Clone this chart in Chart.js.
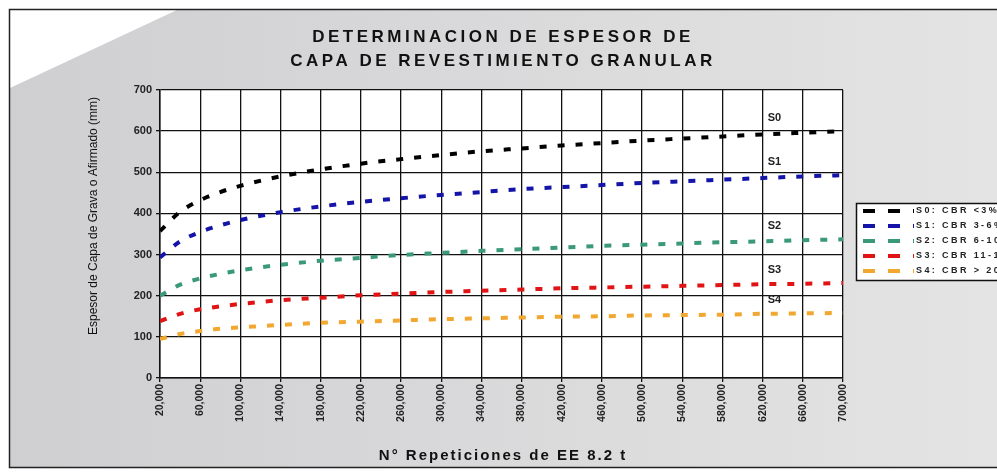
<!DOCTYPE html>
<html lang="es">
<head>
<meta charset="UTF-8">
<title>Espesor de capa granular</title>
<script src="https://cdn.jsdelivr.net/npm/chart.js"></script>
<style>
  html, body { margin: 0; padding: 0; background: #fff; }
  #wrap { width: 997px; height: 475px; }
</style>
</head>
<body>

<div id="wrap">
    <canvas id="grafico" width="997" height="475"></canvas>
</div>

<script>
    // valores (mm)
    const repeticiones = [20000, 40000, 60000, 80000, 100000, 140000, 180000, 220000, 260000, 300000,
        340000, 380000, 420000, 460000, 500000, 540000, 580000, 620000, 660000, 700000];
    const s0 = [357, 404, 432, 452, 467, 490, 507, 521, 532, 542, 551, 558, 565, 571, 577, 582, 587, 592, 596, 600];
    const s1 = [293, 332, 355, 371, 384, 403, 417, 428, 437, 445, 452, 459, 464, 469, 474, 478, 482, 486, 490, 493];
    const s2 = [200, 227, 242, 253, 262, 275, 285, 292, 299, 304, 309, 313, 317, 321, 324, 327, 330, 332, 335, 337];
    const s3 = [138, 156, 167, 174, 180, 189, 195, 201, 205, 209, 212, 215, 218, 220, 222, 224, 226, 228, 229, 231];
    const s4 = [95, 107, 114, 120, 123, 129, 134, 137, 140, 143, 145, 147, 149, 150, 152, 153, 154, 156, 157, 158];

    const nombres = ['S0', 'S1', 'S2', 'S3', 'S4'];
    const leyenda = ['S0: CBR <3%', 'S1: CBR 3-6%', 'S2: CBR 6-10%', 'S3: CBR 11-19%', 'S4: CBR > 20%'];
    const colores = ['#000000', '#1414a8', '#3a9a78', '#e01414', '#f2a830'];
    const series = [s0, s1, s2, s3, s4];

    const titulo = ['DETERMINACION DE ESPESOR DE', 'CAPA DE REVESTIMIENTO GRANULAR'];
    const tituloY = 'Espesor de Capa de Grava o Afirmado (mm)';
    const tituloX = 'N\u00b0 Repeticiones de EE 8.2 t';
    const xEtiqueta = 625000; // donde van los rotulos S0..S4

    const FUENTE = '"Liberation Sans", Arial, sans-serif';

    const decorado = {
        id: 'decorado',
        beforeDraw(chart) {
            const ctx = chart.ctx;
            const W = chart.width, H = chart.height;
            ctx.save();
            ctx.fillStyle = '#ffffff';
            ctx.fillRect(0, 0, W, H);
            // fondo gris con la esquina blanca
            const grad = ctx.createLinearGradient(10, 0, W, 0);
            grad.addColorStop(0, '#cfcfd2');
            grad.addColorStop(1, '#e4e4e4');
            ctx.fillStyle = grad;
            ctx.beginPath();
            ctx.moveTo(177, 10);
            ctx.lineTo(W, 10);
            ctx.lineTo(W, 467);
            ctx.lineTo(10, 467);
            ctx.lineTo(10, 88);
            ctx.closePath();
            ctx.fill();
            // marco
            ctx.strokeStyle = '#222';
            ctx.lineWidth = 1.5;
            ctx.beginPath();
            ctx.moveTo(W, 9.5);
            ctx.lineTo(9.5, 9.5);
            ctx.lineTo(9.5, 467.5);
            ctx.lineTo(W, 467.5);
            ctx.stroke();
            // area de trazado blanca
            const a = chart.chartArea;
            ctx.fillStyle = '#ffffff';
            ctx.fillRect(a.left, a.top, a.right - a.left, a.bottom - a.top);
            ctx.restore();
        },
        afterDatasetsDraw(chart) {
            const ctx = chart.ctx;
            const xs = chart.scales.x, ys = chart.scales.y;
            ctx.save();
            ctx.fillStyle = '#222';
            ctx.font = 'bold 11px ' + FUENTE;
            ctx.textAlign = 'left';
            ctx.textBaseline = 'middle';
            series.forEach((s, i) => {
                const x = xs.getPixelForValue(xEtiqueta);
                const y = ys.getPixelForValue(s[s.length - 1]) - 13;
                ctx.fillText(nombres[i], x, y);
            });
            ctx.restore();
        },
        afterDraw(chart) {
            const ctx = chart.ctx;
            ctx.save();
            ctx.fillStyle = '#111';
            ctx.textAlign = 'center';
            ctx.textBaseline = 'middle';

            // titulo
            ctx.font = 'bold 17px ' + FUENTE;
            ctx.letterSpacing = '3.5px';
            ctx.fillText(titulo[0], 503, 37);
            ctx.fillText(titulo[1], 503, 61);

            // titulo eje x
            ctx.font = 'bold 15px ' + FUENTE;
            ctx.letterSpacing = '2px';
            ctx.fillText(tituloX, 503, 456);
            ctx.letterSpacing = '0px';

            // titulo eje y
            ctx.font = '12px ' + FUENTE;
            ctx.translate(94, 216);
            ctx.rotate(-Math.PI / 2);
            ctx.fillText(tituloY, 0, 0);
            ctx.setTransform(1, 0, 0, 1, 0, 0);

            // leyenda (cortada por el borde derecho)
            const lx = 856, ly = 203;
            ctx.fillStyle = '#ffffff';
            ctx.fillRect(lx, ly, 200, 77);
            ctx.strokeStyle = '#111';
            ctx.lineWidth = 1.5;
            ctx.strokeRect(lx + 0.5, ly + 0.5, 200, 77);
            ctx.textAlign = 'left';
            ctx.font = 'bold 9px ' + FUENTE;
            ctx.letterSpacing = '2.4px';
            leyenda.forEach((t, i) => {
                const y = ly + 8 + i * 15;
                ctx.strokeStyle = colores[i];
                ctx.lineWidth = 4;
                ctx.setLineDash([12, 13]);
                ctx.beginPath();
                ctx.moveTo(863, y);
                ctx.lineTo(914, y);
                ctx.stroke();
                ctx.setLineDash([]);
                ctx.fillStyle = '#222';
                ctx.fillText(t, 916, y);
            });
            ctx.restore();
        }
    };

    const ctx = document.getElementById('grafico').getContext('2d');

    const grafico = new Chart(ctx, {
        type: 'line',
        data: {
            datasets: series.map((s, i) => ({
                label: leyenda[i],
                data: repeticiones.map((r, j) => ({ x: r, y: s[j] })),
                borderColor: colores[i],
                backgroundColor: colores[i],
                borderWidth: 4,
                borderDash: [7, 11],
                pointRadius: 0,
                cubicInterpolationMode: 'monotone',
                fill: false
            }))
        },
        plugins: [decorado],
        options: {
            responsive: false,
            animation: false,
            devicePixelRatio: 1,
            layout: { padding: { left: 10, top: 90, right: 154, bottom: 0 } },
            plugins: {
                legend: { display: false },
                title: { display: false },
                tooltip: { enabled: false }
            },
            scales: {
                x: {
                    type: 'linear',
                    min: 20000,
                    max: 700000,
                    afterFit: (s) => { s.height = 97; },
                    grid: { color: '#111', lineWidth: 1.3, tickLength: 4 },
                    border: { color: '#111', width: 1.5 },
                    ticks: {
                        stepSize: 40000,
                        autoSkip: false,
                        minRotation: 90,
                        maxRotation: 90,
                        padding: 2,
                        color: '#222',
                        font: { family: FUENTE, size: 10.5, weight: 'bold' },
                        callback: (v) => v.toLocaleString('en-US')
                    }
                },
                y: {
                    min: 0,
                    max: 700,
                    afterFit: (s) => { s.width = 150; },
                    grid: { color: '#111', lineWidth: 1.3, tickLength: 4 },
                    border: { color: '#111', width: 1.5 },
                    ticks: {
                        stepSize: 100,
                        padding: 4,
                        color: '#222',
                        font: { family: FUENTE, size: 11, weight: 'bold' }
                    }
                }
            }
        }
    });
</script>
</body>
</html>
